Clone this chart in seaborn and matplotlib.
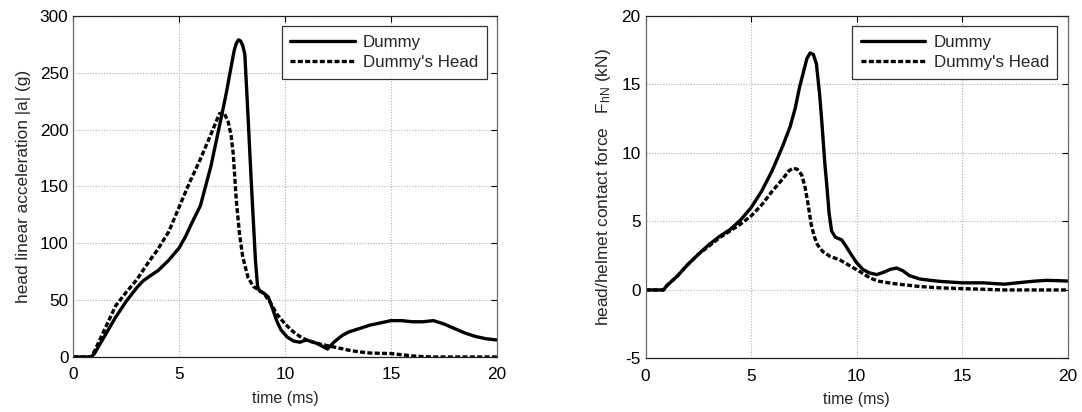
import numpy as np
import pandas as pd
import matplotlib
matplotlib.use("Agg")
import matplotlib.pyplot as plt
import seaborn as sns

# Head linear acceleration |a| (g) vs time (ms)
acc_dummy_t = [0, 0.5, 0.84, 1.0, 1.5, 2.0, 2.5, 3.0, 3.3, 3.6, 4.0, 4.5, 5.0, 5.3, 5.6, 6.0,
               6.5, 7.0, 7.2, 7.4, 7.6, 7.7, 7.8, 7.9, 8.0, 8.1, 8.26, 8.4, 8.5, 8.6, 8.7,
               8.8, 9.0, 9.2, 9.4, 9.6, 9.8, 10.1, 10.4, 10.7, 11.0, 11.5, 11.8, 12.0,
               12.3, 12.7, 13.0, 13.5, 14.0, 14.5, 15.0, 15.5, 16.0, 16.5, 17.0, 17.5,
               18.0, 18.5, 19.0, 19.5, 20.0]
acc_dummy = [0, 0, 0, 3, 19, 35, 49, 61, 67, 71, 76, 85, 96, 106, 118, 133,
             168, 212, 230, 250, 270, 276, 279, 278, 274, 266, 208, 155, 120, 85, 62,
             58, 56, 53, 43, 32, 24, 17.5, 14, 13, 15, 12, 9, 7,
             13, 19, 22, 25, 28, 30, 32, 32, 31, 31, 32, 29, 25, 21, 18, 16, 15]

acc_head_t = [0, 0.5, 0.85, 1.0, 1.5, 2.0, 2.5, 3.0, 3.5, 4.0, 4.5, 5.0, 5.5, 6.0, 6.5, 6.9,
              7.1, 7.3, 7.45, 7.55, 7.7, 7.85, 8.0, 8.25, 8.5, 9.0, 9.3, 9.6, 10.0, 10.4,
              10.7, 11.0, 11.5, 12.0, 12.5, 13.0, 13.5, 14.0, 15.0, 15.5, 16.0, 16.5,
              17.0, 18.0, 19.0, 20.0]
acc_head = [0, 0, 0, 5, 25, 45, 57, 68, 82, 95, 110, 132, 154, 174, 196, 214,
            215, 208, 195, 179, 137, 108, 88, 70, 62, 56, 48, 38, 29, 22,
            18, 15, 12, 10, 8, 6, 4.5, 3.5, 3, 2, 1, 0.3, 0, 0, 0, 0]

# Head/helmet contact force F_hN (kN) vs time (ms)
force_dummy_t = [0, 0.5, 0.85, 1.0, 1.5, 2.0, 2.5, 3.0, 3.5, 4.0, 4.5, 5.0, 5.5, 6.0, 6.5,
                 6.85, 7.1, 7.3, 7.5, 7.65, 7.8, 7.95, 8.1, 8.25, 8.35, 8.5, 8.6, 8.7, 8.82,
                 9.0, 9.3, 9.5, 9.7, 10.0, 10.3, 10.6, 10.96, 11.3, 11.6, 11.9, 12.2, 12.5,
                 13.0, 13.5, 14.0, 15.0, 16.0, 17.0, 17.5, 18.0, 18.5, 19.0, 19.5, 20.0]
force_dummy = [0, 0, 0, 0.3, 1.0, 1.85, 2.6, 3.3, 3.9, 4.4, 5.1, 6.0, 7.2, 8.7, 10.5,
               11.9, 13.3, 14.8, 16.0, 16.9, 17.3, 17.2, 16.5, 14.3, 12.4, 9.2, 7.5, 5.6, 4.3,
               3.85, 3.65, 3.2, 2.7, 2.0, 1.5, 1.25, 1.12, 1.3, 1.5, 1.6, 1.4, 1.05,
               0.8, 0.7, 0.62, 0.52, 0.52, 0.42, 0.5, 0.58, 0.65, 0.7, 0.68, 0.65]

force_head_t = [0, 0.5, 0.85, 1.0, 1.5, 2.0, 2.5, 3.0, 3.5, 4.0, 4.5, 5.0, 5.5, 6.0, 6.5,
                6.8, 7.0, 7.2, 7.4, 7.55, 7.7, 7.85, 8.0, 8.15, 8.4, 8.75, 9.2, 9.7, 10.2,
                10.64, 11.0, 11.6, 12.0, 13.0, 14.0, 15.0, 16.0, 17.0, 18.0, 19.0, 20.0]
force_head = [0, 0, 0, 0.3, 1.0, 1.85, 2.6, 3.2, 3.8, 4.3, 4.8, 5.4, 6.2, 7.2, 8.1,
              8.7, 8.9, 8.8, 8.4, 7.6, 6.3, 4.8, 3.9, 3.3, 2.8, 2.45, 2.2, 1.75, 1.3,
              0.88, 0.65, 0.5, 0.42, 0.25, 0.15, 0.1, 0.05, 0, 0, 0, 0]

x_ticks = [0, 5, 10, 15, 20]
acc_ticks = [0, 50, 100, 150, 200, 250, 300]
force_ticks = [-5, 0, 5, 10, 15, 20]
series_names = ["Dummy", "Dummy's Head"]

sns.set_theme(style="white")
plt.rcParams["font.family"] = ["Liberation Sans", "DejaVu Sans"]
plt.rcParams["mathtext.fontset"] = "custom"
plt.rcParams["mathtext.rm"] = "Liberation Sans"
plt.rcParams["mathtext.it"] = "Liberation Sans"
plt.rcParams["axes.unicode_minus"] = False

fig = plt.figure(figsize=(10.82, 4.12), dpi=100)
ax1 = fig.add_axes([0.0677, 0.1335, 0.3916, 0.8277])
ax2 = fig.add_axes([0.5966, 0.1300, 0.3900, 0.8312])

solid_kw = dict(color="black", linewidth=2.4, linestyle="-")
dash_kw = dict(color="black", linewidth=2.4, linestyle=(0, (1.5, 0.7)))


def draw(ax, t1, y1, t2, y2, ylim, yticks, ylabel):
    d1 = pd.DataFrame({"t": t1, "v": y1})
    d2 = pd.DataFrame({"t": t2, "v": y2})
    sns.lineplot(data=d1, x="t", y="v", ax=ax, label=series_names[0], **solid_kw)
    sns.lineplot(data=d2, x="t", y="v", ax=ax, label=series_names[1], **dash_kw)
    ax.set_xlim(0, 20)
    ax.set_ylim(*ylim)
    ax.set_xticks(x_ticks)
    ax.set_yticks(yticks)
    ax.grid(True, color="#b0b0b0", linestyle=(0, (1, 1.5)), linewidth=0.8)
    ax.tick_params(direction="in", length=4, width=0.8, top=True, right=True,
                   labelsize=12.4, colors="black")
    ax.tick_params(axis="x", pad=7.5)
    ax.tick_params(axis="y", pad=3.5)
    for name, s in ax.spines.items():
        s.set_linewidth(0.9)
        s.set_color("#222222" if name in ("top", "bottom") else "#6a6a6a")
    ax.set_xlabel("time (ms)", fontsize=11.5, labelpad=6)
    ax.set_ylabel(ylabel, fontsize=12.4, labelpad=6)
    leg = ax.legend(loc="upper right", fontsize=12.2, frameon=True, fancybox=False,
                    edgecolor="black", borderaxespad=0.6, handlelength=3.8,
                    borderpad=0.5, labelspacing=0.32, handletextpad=0.5)
    leg.get_frame().set_linewidth(0.9)


draw(ax1, acc_dummy_t, acc_dummy, acc_head_t, acc_head, (0, 300), acc_ticks,
     "head linear acceleration |a| (g)")
draw(ax2, force_dummy_t, force_dummy, force_head_t, force_head, (-5, 20), force_ticks,
     r"head/helmet contact force   F$_{\mathrm{hN}}$ (kN)")

fig.savefig("out.png", dpi=100)
